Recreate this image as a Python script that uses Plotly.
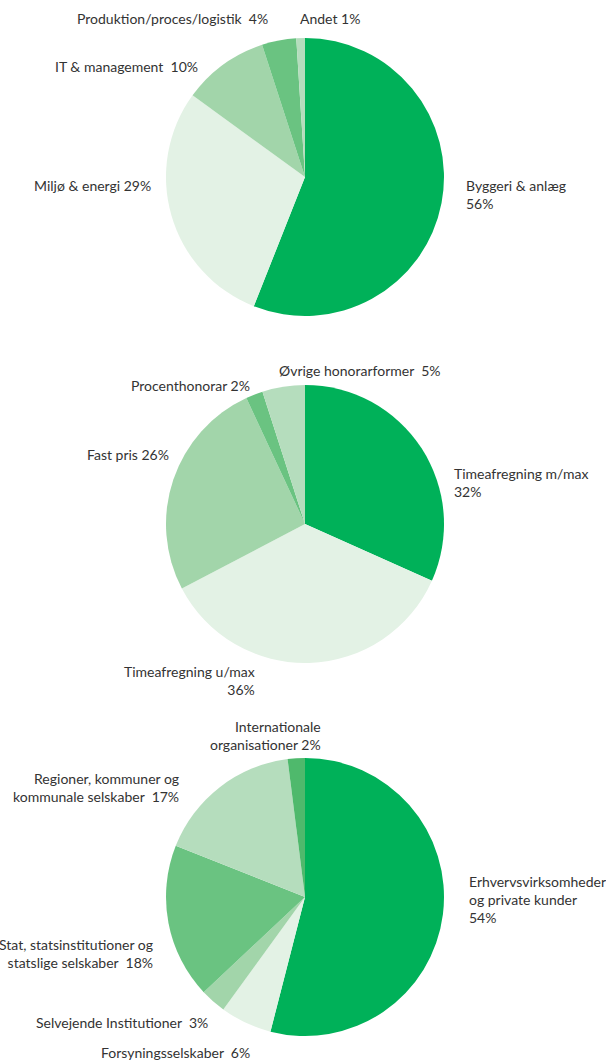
import plotly.graph_objects as go

W, H = 606, 1061

# Pie 1: field of work
fag_labels = ["Byggeri & anlæg", "Miljø & energi", "IT & management", "Produktion/proces/logistik", "Andet"]
fag_values = [56, 29, 10, 4, 1]

# Pie 2: fee type
hon_labels = ["Timeafregning m/max", "Timeafregning u/max", "Fast pris", "Procenthonorar", "Øvrige honorarformer"]
hon_values = [32, 36, 26, 2, 5]

# Pie 3: clients
kunde_labels = ["Erhvervsvirksomheder og private kunder", "Forsyningsselskaber", "Selvejende Institutioner",
                "Stat, statsinstitutioner og statslige selskaber", "Regioner, kommuner og kommunale selskaber",
                "Internationale organisationer"]
kunde_values = [54, 6, 3, 18, 17, 2]

DARK = "#00b159"
VLIGHT = "#e3f2e5"
MLIGHT = "#a2d5aa"
MED = "#6ac381"
LIGHT = "#b5ddbd"
INTL = "#4fb96c"

colors1 = [DARK, VLIGHT, MLIGHT, MED, LIGHT]
colors2 = [DARK, VLIGHT, MLIGHT, MED, LIGHT]
colors3 = [DARK, VLIGHT, MLIGHT, MED, LIGHT, INTL]

R = 139
CX = 305


def dom(cy):
    return dict(x=[(CX - R) / W, (CX + R) / W], y=[1 - (cy + R) / H, 1 - (cy - R) / H])


fig = go.Figure()
for labels, values, cols, cy in [(fag_labels, fag_values, colors1, 177),
                                 (hon_labels, hon_values, colors2, 524),
                                 (kunde_labels, kunde_values, colors3, 897)]:
    fig.add_trace(go.Pie(labels=labels, values=values, sort=False, direction="clockwise",
                         rotation=0, textinfo="none", hoverinfo="label+percent",
                         marker=dict(colors=cols, line=dict(width=0)),
                         domain=dom(cy), showlegend=False))

FONT = dict(family="Lato, 'Open Sans', sans-serif", size=14, color="#333333")


def ann(text, x, y, anchor="left", align="left"):
    fig.add_annotation(text=text, x=x / W, y=1 - y / H, xref="paper", yref="paper",
                       xanchor=anchor, yanchor="middle", align=align, showarrow=False, font=FONT)


# Pie 1 labels
ann("Produktion/proces/logistik  4%", 270, 19, "right", "right")
ann("Andet 1%", 298, 19)
ann("IT & management  10%", 200, 67, "right", "right")
ann("Miljø & energi 29%", 153, 185, "right", "right")
ann("Byggeri & anlæg<br>56%", 464, 194)

# Pie 2 labels
ann("Øvrige honorarformer  5%", 277, 370)
ann("Procenthonorar 2%", 252, 385, "right", "right")
ann("Fast pris 26%", 171, 455, "right", "right")
ann("Timeafregning m/max<br>32%", 452, 482)
ann("Timeafregning u/max<br>36%", 257, 680, "right", "right")

# Pie 3 labels
ann("Internationale<br>organisationer 2%", 323, 735, "right", "right")
ann("Regioner, kommuner og<br>kommunale selskaber  17%", 181, 787, "right", "right")
ann("Erhvervsvirksomheder<br>og private kunder<br>54%", 467, 899)
ann("Stat, statsinstitutioner og<br>statslige selskaber  18%", 155, 953, "right", "right")
ann("Selvejende Institutioner  3%", 210, 1022, "right", "right")
ann("Forsyningsselskaber  6%", 252, 1052, "right", "right")

fig.update_layout(width=W, height=H, margin=dict(l=0, r=0, t=0, b=0),
                  paper_bgcolor="white", plot_bgcolor="white")

fig.write_html("out.html", config={"displayModeBar": False},
               post_script="document.body.style.margin='0';document.body.style.overflow='hidden';")
